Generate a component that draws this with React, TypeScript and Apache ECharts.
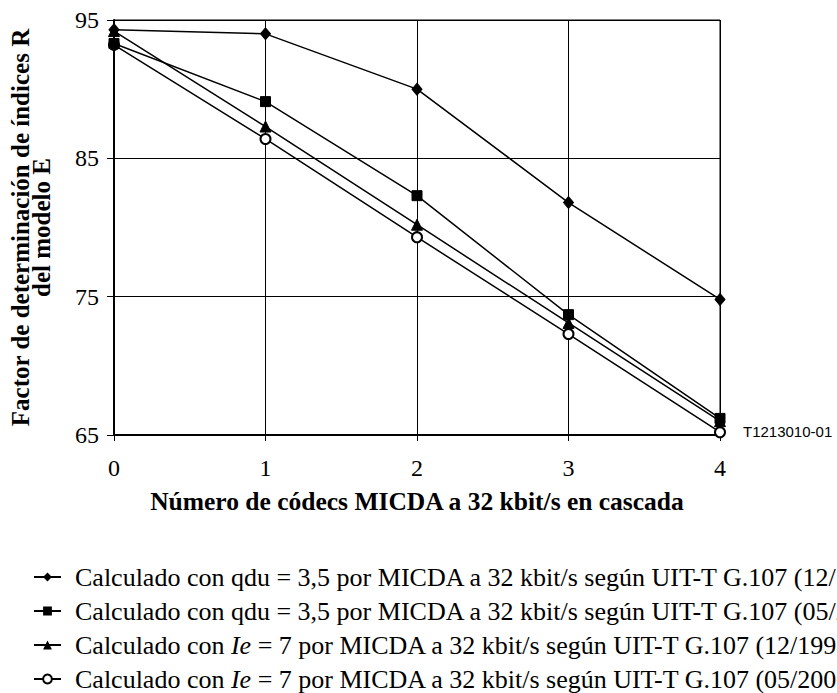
import React, { useEffect, useRef } from "react";
import * as echarts from "echarts";

const xValues = [0, 1, 2, 3, 4];
const seriesNames = [
  "Calculado con qdu = 3,5 por MICDA a 32 kbit/s según UIT-T G.107 (12/1998)",
  "Calculado con qdu = 3,5 por MICDA a 32 kbit/s según UIT-T G.107 (05/2000)",
  "Calculado con Ie = 7 por MICDA a 32 kbit/s según UIT-T G.107 (12/1998)",
  "Calculado con Ie = 7 por MICDA a 32 kbit/s según UIT-T G.107 (05/2000)",
];
const diamondValues = [94.3, 94.0, 90.0, 81.8, 74.8];
const squareValues = [93.3, 89.1, 82.3, 73.7, 66.2];
const triangleValues = [94.2, 87.3, 80.2, 73.1, 66.0];
const circleValues = [93.2, 86.4, 79.3, 72.3, 65.2];
const yTicks = [65, 75, 85, 95];
const xAxisTitle = "Número de códecs MICDA a 32 kbit/s en cascada";
const yAxisTitle = "Factor de determinación de índices R\ndel modelo E";
const figureCode = "T1213010-01";

const SERIF = "'Liberation Serif', 'Times New Roman', serif";
const SANS = "'Liberation Sans', Arial, sans-serif";

export default function App() {
  const ref = useRef<HTMLDivElement>(null);
  useEffect(() => {
    if (!ref.current) return;
    const chart = echarts.init(ref.current, undefined, { renderer: "svg" });
    const mk = (vals: number[]) => vals.map((v, i) => [xValues[i], v]);
    const base = {
      type: "line",
      lineStyle: { color: "#000", width: 1.5 },
      itemStyle: { color: "#000", borderColor: "#000" },
      emphasis: { disabled: true },
    };
    const legendFormatter = (name: string) => {
      if (name.indexOf(" Ie ") >= 0) {
        const parts = name.split("Ie");
        return "{n|" + parts[0] + "}{i|Ie}{n|" + parts[1] + "}";
      }
      return "{n|" + name + "}";
    };
    const legends = seriesNames.map((name, i) => ({
      orient: "vertical",
      left: 33,
      top: 564 + i * 34,
      padding: 0,
      itemWidth: 27,
      itemHeight: 11,
      selectedMode: false,
      data: [name],
      formatter: legendFormatter,
      textStyle: {
        color: "#000",
        fontFamily: SERIF,
        fontSize: 26,
        padding: [0, 0, 0, 9],
        rich: {
          n: { color: "#000", fontFamily: SERIF, fontSize: 26 },
          i: { color: "#000", fontFamily: SERIF, fontSize: 26, fontStyle: "italic" },
        },
      },
    }));
    const option: any = {
      animation: false,
      backgroundColor: "#fff",
      grid: {
        left: 113,
        right: 117,
        top: 20,
        bottom: 258,
        show: true,
        borderColor: "#000",
        borderWidth: 1,
      },
      xAxis: {
        type: "value",
        min: 0,
        max: 4,
        interval: 1,
        axisLine: { show: true, lineStyle: { color: "#000", width: 2 } },
        axisTick: { show: true, length: 6, lineStyle: { color: "#000", width: 1 } },
        axisLabel: { color: "#000", fontFamily: SERIF, fontSize: 24, margin: 21 },
        splitLine: { show: true, lineStyle: { color: "#000", width: 1 } },
        name: xAxisTitle,
        nameLocation: "middle",
        nameGap: 53,
        nameTextStyle: { color: "#000", fontFamily: SERIF, fontSize: 25.5, fontWeight: "bold" },
      },
      yAxis: {
        type: "value",
        min: yTicks[0],
        max: yTicks[yTicks.length - 1],
        interval: 10,
        axisLine: { show: true, lineStyle: { color: "#000", width: 2 } },
        axisTick: { show: true, length: 7, lineStyle: { color: "#000", width: 1 } },
        axisLabel: { color: "#000", fontFamily: SERIF, fontSize: 24, margin: 15 },
        splitLine: { show: true, lineStyle: { color: "#000", width: 1 } },
        name: yAxisTitle,
        nameLocation: "middle",
        nameRotate: 90,
        nameGap: 62,
        nameTextStyle: {
          color: "#000",
          fontFamily: SERIF,
          fontSize: 25,
          fontWeight: "bold",
          lineHeight: 21,
          align: "center",
        },
      },
      legend: legends,
      graphic: [
        {
          type: "text",
          left: 743,
          top: 424,
          style: { text: figureCode, fill: "#000", font: "15px " + SANS },
        },
      ],
      series: [
        { ...base, name: seriesNames[0], data: mk(diamondValues), symbol: "diamond", symbolSize: [10, 12], z: 3 },
        { ...base, name: seriesNames[1], data: mk(squareValues), symbol: "rect", symbolSize: 10, z: 4 },
        { ...base, name: seriesNames[2], data: mk(triangleValues), symbol: "triangle", symbolSize: 11, z: 3 },
        {
          ...base,
          name: seriesNames[3],
          data: mk(circleValues),
          symbol: "emptyCircle",
          symbolSize: 10,
          z: 2,
          itemStyle: { color: "#000", borderColor: "#000", borderWidth: 1.2 },
        },
      ],
    };
    chart.setOption(option);
    return () => chart.dispose();
  }, []);
  return (
    <div
      ref={ref}
      style={{ position: "absolute", left: 0, top: 0, width: 837, height: 693, background: "#fff" }}
    />
  );
}
